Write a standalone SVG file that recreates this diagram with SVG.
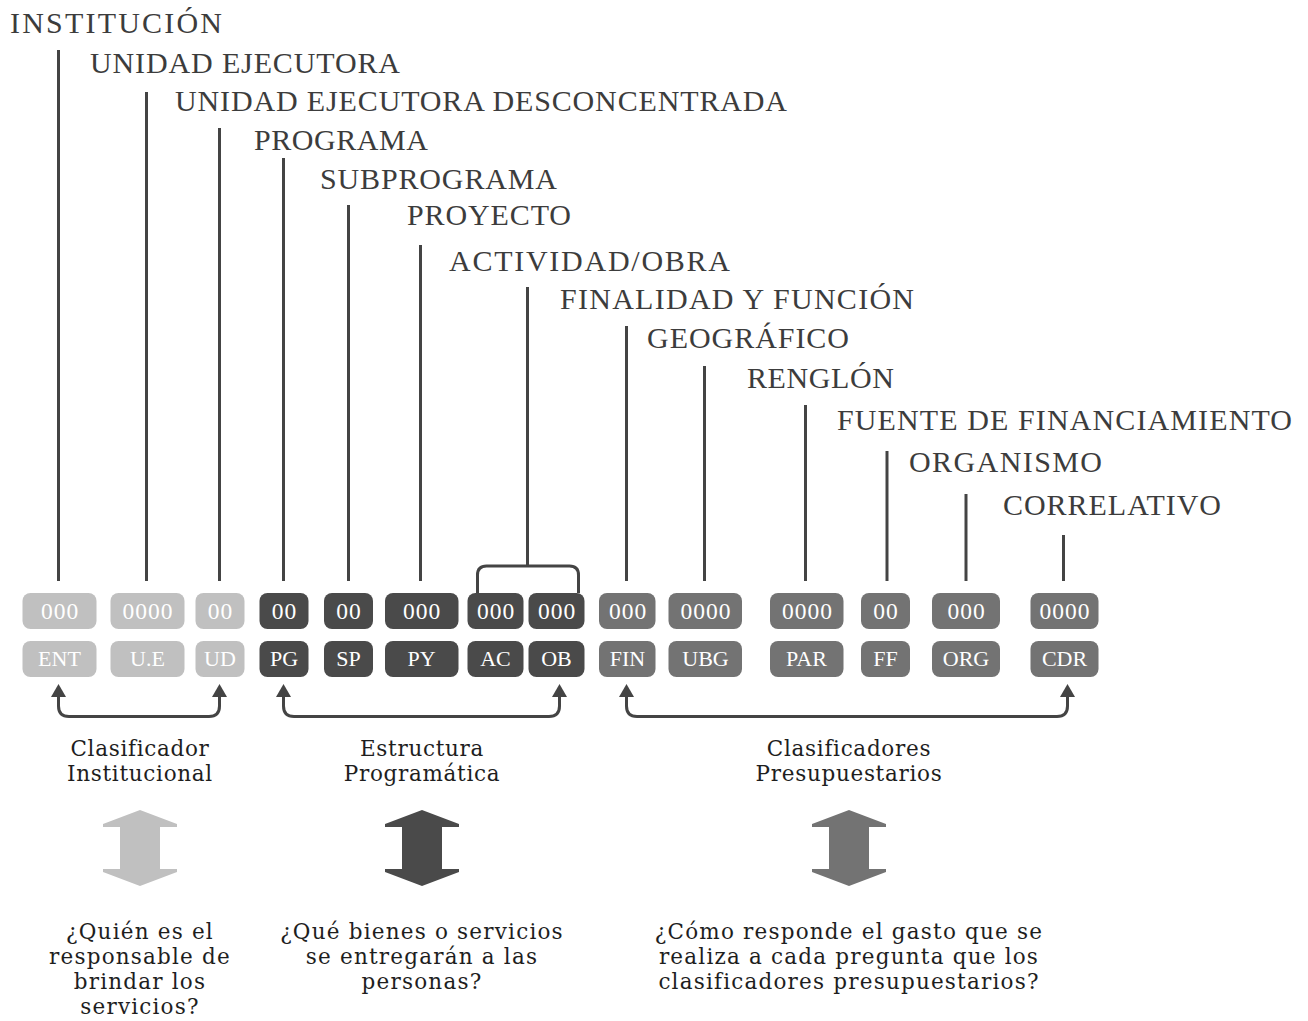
<svg xmlns="http://www.w3.org/2000/svg" width="1308" height="1021" viewBox="0 0 1308 1021">
<defs>
<style>
.lbl{font-family:"Liberation Serif","Times New Roman",serif;font-size:30px;fill:#3c3c3c}
.ln{stroke:#444;stroke-width:3;fill:none}
.br{stroke:#444;stroke-width:3;fill:none}
.ah{fill:#444}
.lt{fill:#c0c0c0}
.dk{fill:#4a4a4a}
.md{fill:#737373}
.bt{font-family:"Liberation Serif","Times New Roman",serif;font-size:22px;fill:#fff;text-anchor:middle}
.dg{font-size:23.5px;letter-spacing:1px}
.cap{font-family:"DejaVu Serif",serif;font-size:21.5px;letter-spacing:0.7px;fill:#1e1e1e;text-anchor:middle}
.q{font-family:"DejaVu Serif",serif;font-size:21.5px;letter-spacing:1.2px;fill:#1e1e1e;text-anchor:middle}
</style>
</defs>
<rect width="1308" height="1021" fill="#fff"/>

<g id="labels">
<text class="lbl" x="10" y="33" textLength="212" lengthAdjust="spacing">INSTITUCIÓN</text>
<text class="lbl" x="90" y="73" textLength="310" lengthAdjust="spacing">UNIDAD EJECUTORA</text>
<text class="lbl" x="175" y="111" textLength="612" lengthAdjust="spacing">UNIDAD EJECUTORA DESCONCENTRADA</text>
<text class="lbl" x="254" y="150" textLength="174" lengthAdjust="spacing">PROGRAMA</text>
<text class="lbl" x="320" y="189" textLength="237" lengthAdjust="spacing">SUBPROGRAMA</text>
<text class="lbl" x="407" y="225" textLength="164" lengthAdjust="spacing">PROYECTO</text>
<text class="lbl" x="449" y="271" textLength="281" lengthAdjust="spacing">ACTIVIDAD/OBRA</text>
<text class="lbl" x="560" y="309" textLength="354" lengthAdjust="spacing">FINALIDAD Y FUNCIÓN</text>
<text class="lbl" x="647" y="348" textLength="202" lengthAdjust="spacing">GEOGRÁFICO</text>
<text class="lbl" x="747" y="388" textLength="147" lengthAdjust="spacing">RENGLÓN</text>
<text class="lbl" x="837" y="430" textLength="455" lengthAdjust="spacing">FUENTE DE FINANCIAMIENTO</text>
<text class="lbl" x="909" y="472" textLength="193" lengthAdjust="spacing">ORGANISMO</text>
<text class="lbl" x="1003" y="515" textLength="218" lengthAdjust="spacing">CORRELATIVO</text>
</g>

<g id="connectors">
<line class="ln" x1="58.5" y1="50" x2="58.5" y2="581"/>
<line class="ln" x1="146.5" y1="92" x2="146.5" y2="581"/>
<line class="ln" x1="219.5" y1="128" x2="219.5" y2="581"/>
<line class="ln" x1="283.5" y1="158" x2="283.5" y2="581"/>
<line class="ln" x1="348.5" y1="205" x2="348.5" y2="581"/>
<line class="ln" x1="420.5" y1="245" x2="420.5" y2="581"/>
<line class="ln" x1="527.5" y1="287" x2="527.5" y2="566"/>
<path class="ln" d="M477.5,593 V575 Q477.5,566 486.5,566 H569.5 Q578.5,566 578.5,575 V593"/>
<line class="ln" x1="626.5" y1="326" x2="626.5" y2="581"/>
<line class="ln" x1="704.5" y1="366" x2="704.5" y2="581"/>
<line class="ln" x1="805.5" y1="405" x2="805.5" y2="581"/>
<line class="ln" x1="887" y1="451" x2="887" y2="581"/>
<line class="ln" x1="966" y1="494" x2="966" y2="581"/>
<line class="ln" x1="1063.5" y1="535" x2="1063.5" y2="581"/>

<path class="br" d="M58.5,696 V706 Q58.5,716.5 69,716.5 H209 Q219.5,716.5 219.5,706 V696"/>
<polygon class="ah" points="58.5,684 66,697 51,697"/>
<polygon class="ah" points="219.5,684 227,697 212,697"/>

<path class="br" d="M283.5,696 V706 Q283.5,716.5 294,716.5 H549 Q559.5,716.5 559.5,706 V696"/>
<polygon class="ah" points="283.5,684 291,697 276,697"/>
<polygon class="ah" points="559.5,684 567,697 552,697"/>

<path class="br" d="M626.5,696 V706 Q626.5,716.5 637,716.5 H1057 Q1067.5,716.5 1067.5,706 V696"/>
<polygon class="ah" points="626.5,684 634,697 619,697"/>
<polygon class="ah" points="1067.5,684 1075,697 1060,697"/>
</g>

<g id="n-ent"><rect class="lt" x="22.5" y="593" width="74" height="36" rx="8"/><rect class="lt" x="22.5" y="641" width="74" height="36" rx="8"/><text class="bt dg" x="60" y="619">000</text><text class="bt" x="59.5" y="666">ENT</text></g>
<g id="n-ue"><rect class="lt" x="110.5" y="593" width="74" height="36" rx="8"/><rect class="lt" x="110.5" y="641" width="74" height="36" rx="8"/><text class="bt dg" x="148" y="619">0000</text><text class="bt" x="147.5" y="666">U.E</text></g>
<g id="n-ud"><rect class="lt" x="195.5" y="593" width="49" height="36" rx="8"/><rect class="lt" x="195.5" y="641" width="49" height="36" rx="8"/><text class="bt dg" x="220.5" y="619">00</text><text class="bt" x="220" y="666">UD</text></g>
<g id="n-pg"><rect class="dk" x="259.5" y="593" width="49" height="36" rx="8"/><rect class="dk" x="259.5" y="641" width="49" height="36" rx="8"/><text class="bt dg" x="284.5" y="619">00</text><text class="bt" x="284" y="666">PG</text></g>
<g id="n-sp"><rect class="dk" x="324" y="593" width="49" height="36" rx="8"/><rect class="dk" x="324" y="641" width="49" height="36" rx="8"/><text class="bt dg" x="349" y="619">00</text><text class="bt" x="348.5" y="666">SP</text></g>
<g id="n-py"><rect class="dk" x="385" y="593" width="73.5" height="36" rx="8"/><rect class="dk" x="385" y="641" width="73.5" height="36" rx="8"/><text class="bt dg" x="422" y="619">000</text><text class="bt" x="421.5" y="666">PY</text></g>
<g id="n-ac"><rect class="dk" x="467.5" y="593" width="56" height="36" rx="8"/><rect class="dk" x="467.5" y="641" width="56" height="36" rx="8"/><text class="bt dg" x="496" y="619">000</text><text class="bt" x="495.5" y="666">AC</text></g>
<g id="n-ob"><rect class="dk" x="528.5" y="593" width="56" height="36" rx="8"/><rect class="dk" x="528.5" y="641" width="56" height="36" rx="8"/><text class="bt dg" x="557" y="619">000</text><text class="bt" x="556.5" y="666">OB</text></g>
<g id="n-fin"><rect class="md" x="599" y="593" width="56.5" height="36" rx="8"/><rect class="md" x="599" y="641" width="56.5" height="36" rx="8"/><text class="bt dg" x="628" y="619">000</text><text class="bt" x="627.5" y="666">FIN</text></g>
<g id="n-ubg"><rect class="md" x="668.5" y="593" width="73.5" height="36" rx="8"/><rect class="md" x="668.5" y="641" width="73.5" height="36" rx="8"/><text class="bt dg" x="706" y="619">0000</text><text class="bt" x="705.5" y="666">UBG</text></g>
<g id="n-par"><rect class="md" x="770" y="593" width="73.5" height="36" rx="8"/><rect class="md" x="770" y="641" width="73.5" height="36" rx="8"/><text class="bt dg" x="807.5" y="619">0000</text><text class="bt" x="806.5" y="666">PAR</text></g>
<g id="n-ff"><rect class="md" x="861" y="593" width="49" height="36" rx="8"/><rect class="md" x="861" y="641" width="49" height="36" rx="8"/><text class="bt dg" x="886" y="619">00</text><text class="bt" x="885.5" y="666">FF</text></g>
<g id="n-org"><rect class="md" x="932" y="593" width="68" height="36" rx="8"/><rect class="md" x="932" y="641" width="68" height="36" rx="8"/><text class="bt dg" x="966.5" y="619">000</text><text class="bt" x="966" y="666">ORG</text></g>
<g id="n-cdr"><rect class="md" x="1030.5" y="593" width="68" height="36" rx="8"/><rect class="md" x="1030.5" y="641" width="68" height="36" rx="8"/><text class="bt dg" x="1065" y="619">0000</text><text class="bt" x="1064.5" y="666">CDR</text></g>

<g id="g-inst">
<text class="cap" x="140" y="756">Clasificador</text>
<text class="cap" x="140" y="781">Institucional</text>
<polygon class="lt" points="140,810 177,824 177,827 160,827 160,869 177,869 177,872 140,886 103,872 103,869 120,869 120,827 103,827 103,824"/>
<text class="q" x="140" y="939">¿Quién es el</text>
<text class="q" x="140" y="964">responsable de</text>
<text class="q" x="140" y="989">brindar los</text>
<text class="q" x="140" y="1014">servicios?</text>
</g>

<g id="g-prog">
<text class="cap" x="422" y="756">Estructura</text>
<text class="cap" x="422" y="781">Programática</text>
<polygon class="dk" points="422,810 459,824 459,827 442,827 442,869 459,869 459,872 422,886 385,872 385,869 402,869 402,827 385,827 385,824"/>
<text class="q" x="422" y="939">¿Qué bienes o servicios</text>
<text class="q" x="422" y="964">se entregarán a las</text>
<text class="q" x="422" y="989">personas?</text>
</g>

<g id="g-pres">
<text class="cap" x="849" y="756">Clasificadores</text>
<text class="cap" x="849" y="781">Presupuestarios</text>
<polygon class="md" points="849,810 886,824 886,827 869,827 869,869 886,869 886,872 849,886 812,872 812,869 829,869 829,827 812,827 812,824"/>
<text class="q" x="849" y="939">¿Cómo responde el gasto que se</text>
<text class="q" x="849" y="964">realiza a cada pregunta que los</text>
<text class="q" x="849" y="989">clasificadores presupuestarios?</text>
</g>
</svg>
